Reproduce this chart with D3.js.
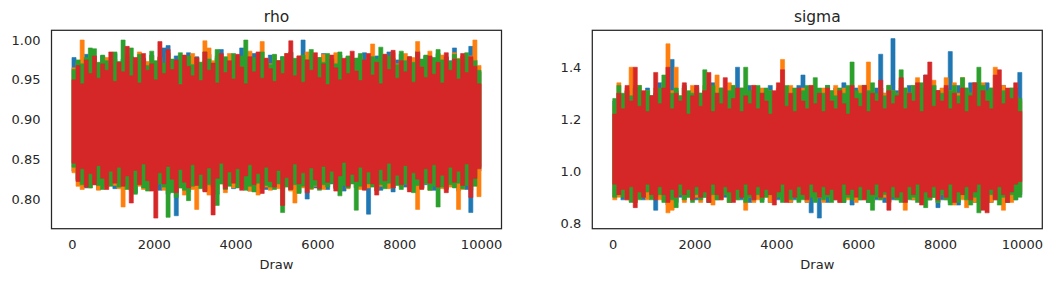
<!DOCTYPE html>
<html>
<head>
<meta charset="utf-8">
<script src="https://cdn.jsdelivr.net/npm/d3@7"></script>
<style>
  body { margin: 0; background: #fff; }
  text { font-family: "DejaVu Sans", sans-serif; fill: #262626; }
</style>
</head>
<body>
<script>
// draws per chain, split in 100 bins; each bin keeps the highest and lowest value
var nDraws = 10000;
var chainNames = ["0", "1", "2", "3"];
var chainColors = ["#1f77b4", "#ff7f0e", "#2ca02c", "#d62728"];

// rho
var rhoTicks = [0.80, 0.85, 0.90, 0.95, 1.00];
var rhoBlueHi = [.978,.970,.975,.982,.968,.974,.966,.980,.972,.969,.983,.971,.976,.967,.979,.973,.965,.977,.970,.981,.968,.975,.990,.993,.972,.980,.969,.976,.984,.971,.979,.966,.974,.982,.970,.977,.988,.968,.975,.973,.971,.990,.978,.967,.983,.972,.976,.969,.981,.974,.967,.979,.973,.985,.970,.977,1.0,.972,.980,.968,.975,.983,.970,.976,.968,.981,.973,.979,.971,.977,.969,.984,.976,.972,.980,.970,.978,.985,.968,.975,.982,.971,.977,.969,.986,.974,.980,.972,.976,.983,.970,.978,.974,.990,.972,.979,.968,.992,.975,.960];
var rhoBlueLo = [.835,.823,.820,.814,.826,.818,.812,.824,.816,.821,.813,.825,.818,.822,.815,.808,.827,.819,.814,.823,.816,.811,.821,.806,.818,.779,.822,.815,.809,.820,.814,.823,.817,.812,.819,.806,.825,.816,.821,.813,.818,.822,.814,.810,.826,.817,.815,.812,.820,.816,.821,.813,.818,.811,.822,.808,.816,.800,.823,.814,.817,.820,.812,.819,.815,.823,.810,.818,.821,.814,.820,.813,.781,.816,.822,.811,.818,.814,.809,.819,.823,.815,.817,.812,.820,.814,.818,.822,.811,.816,.819,.813,.821,.815,.810,.818,.812,.783,.817,.835];
var rhoOrangeHi = [.965,.972,1.0,.975,.968,.980,.971,.966,.978,.970,.976,.968,.974,.982,.970,.977,.985,.969,.973,.980,.971,.978,.967,.984,.973,.969,.981,.975,.970,.983,.977,.972,.999,.990,.974,.980,.968,.976,.983,.971,.979,.973,.969,.986,.975,.972,.998,.977,.970,.981,.974,.968,.983,.976,.972,.980,.969,.985,.975,.971,.978,.982,.970,.976,.984,.973,.969,.979,.975,.972,.980,.971,.977,.995,.973,.969,.982,.976,.984,.970,.975,.983,.972,.978,.998,.974,.970,.986,.977,.973,.981,.975,.971,.984,.977,.979,.973,.980,1.0,.968];
var rhoOrangeLo = [.833,.816,.812,.820,.814,.822,.811,.818,.815,.823,.817,.813,.790,.819,.810,.821,.816,.812,.820,.815,.818,.822,.811,.816,.809,.820,.814,.805,.817,.812,.787,.815,.820,.805,.816,.812,.819,.808,.821,.814,.816,.820,.813,.810,.818,.805,.821,.815,.811,.817,.813,.819,.816,.810,.795,.818,.814,.820,.812,.816,.819,.812,.817,.821,.814,.810,.818,.813,.820,.815,.812,.818,.814,.820,.811,.816,.819,.813,.817,.821,.815,.819,.812,.817,.787,.814,.820,.811,.818,.816,.813,.820,.815,.818,.787,.812,.819,.816,.821,.803];
var rhoGreenHi = [.963,.975,.970,.978,.990,.989,.972,.981,.974,.969,.985,.973,1.0,.977,.990,.970,.982,.975,.968,.986,.974,.979,.971,.983,.976,.970,.984,.973,.980,.969,.978,.972,.985,.976,.970,.988,.974,.979,.971,.983,.975,.980,1.0,.973,.978,.971,.985,.976,.969,.982,.974,.979,.972,.984,.977,.970,.981,.975,.988,.973,.978,.972,.983,.976,.970,.985,.974,.980,.972,.977,.983,.975,.971,.979,.976,.991,.973,.980,.977,.969,.986,.974,.979,.972,.984,.976,.981,.970,.978,.988,.975,.979,.973,.982,.976,.971,.984,.977,.974,.962];
var rhoGreenLo = [.840,.825,.818,.821,.814,.823,.817,.812,.820,.816,.822,.815,.819,.812,.818,.806,.821,.814,.810,.817,.813,.819,.815,.777,.808,.802,.814,.811,.798,.816,.820,.813,.810,.818,.815,.792,.819,.812,.816,.821,.814,.818,.811,.816,.809,.820,.813,.817,.815,.812,.819,.783,.815,.812,.818,.807,.816,.820,.813,.817,.811,.818,.815,.820,.813,.804,.817,.814,.819,.786,.816,.812,.819,.815,.810,.818,.813,.820,.814,.817,.812,.819,.815,.808,.817,.813,.820,.811,.816,.790,.815,.812,.818,.814,.820,.813,.817,.811,.816,.840];
var rhoRedHi = [.950,.968,.945,.975,.958,.980,.952,.970,.962,.985,.948,.972,.960,.992,.955,.978,.946,.983,.962,.970,.950,.998,.958,.988,.963,.975,.944,.981,.967,.955,.978,.949,.985,.962,.971,.946,.983,.959,.974,.951,.982,.966,.945,.979,.960,.985,.952,.977,.964,.948,.974,.958,.983,.999,.955,.980,.947,.975,.962,.984,.953,.970,.944,.981,.965,.950,.977,.958,.986,.961,.949,.975,.983,.956,.972,.945,.982,.963,.987,.952,.974,.960,.979,.947,.985,.966,.953,.980,.957,.972,.946,.984,.962,.976,.951,.983,.959,.979,.967,.945];
var rhoRedLo = [.845,.822,.838,.815,.832,.818,.842,.826,.812,.835,.820,.840,.816,.829,.795,.836,.818,.844,.823,.810,.776,.833,.819,.841,.825,.808,.837,.821,.814,.843,.817,.831,.809,.839,.780,.826,.845,.813,.834,.820,.838,.811,.829,.843,.818,.832,.807,.840,.822,.815,.836,.792,.827,.812,.844,.819,.833,.808,.839,.824,.813,.841,.821,.835,.810,.829,.846,.816,.831,.822,.840,.811,.834,.819,.805,.837,.823,.845,.814,.830,.818,.842,.809,.833,.825,.812,.838,.820,.843,.815,.830,.808,.840,.821,.835,.817,.844,.802,.826,.838];

// sigma
var sigmaTicks = [0.8, 1.0, 1.2, 1.4];
var sigmaBlueHi = [1.27,1.30,1.29,1.31,1.28,1.33,1.30,1.27,1.32,1.29,1.30,1.34,1.29,1.33,1.43,1.31,1.28,1.32,1.30,1.29,1.33,1.30,1.31,1.29,1.34,1.30,1.32,1.28,1.31,1.30,1.40,1.31,1.29,1.33,1.30,1.32,1.29,1.31,1.33,1.30,1.31,1.33,1.30,1.32,1.29,1.33,1.37,1.30,1.32,1.29,1.31,1.30,1.33,1.29,1.32,1.30,1.34,1.31,1.29,1.32,1.30,1.33,1.31,1.29,1.32,1.45,1.30,1.33,1.51,1.31,1.32,1.30,1.33,1.29,1.31,1.32,1.37,1.30,1.33,1.31,1.29,1.32,1.46,1.30,1.33,1.31,1.29,1.34,1.30,1.32,1.31,1.34,1.30,1.32,1.29,1.33,1.31,1.30,1.32,1.38];
var sigmaBlueLo = [0.90,0.91,0.89,0.92,0.90,0.88,0.91,0.89,0.90,0.91,0.85,0.90,0.89,0.87,0.91,0.88,0.90,0.89,0.91,0.90,0.89,0.91,0.90,0.88,0.90,0.89,0.91,0.90,0.88,0.90,0.91,0.89,0.90,0.88,0.91,0.90,0.89,0.91,0.88,0.90,0.89,0.91,0.90,0.88,0.89,0.91,0.90,0.88,0.84,0.89,0.82,0.90,0.88,0.91,0.89,0.90,0.88,0.91,0.87,0.90,0.89,0.91,0.88,0.90,0.89,0.91,0.88,0.90,0.89,0.91,0.90,0.88,0.91,0.89,0.90,0.88,0.91,0.89,0.90,0.86,0.89,0.91,0.88,0.90,0.87,0.91,0.89,0.90,0.88,0.91,0.89,0.90,0.88,0.91,0.89,0.90,0.88,0.91,0.89,0.91];
var sigmaOrangeHi = [1.25,1.34,1.28,1.32,1.40,1.30,1.33,1.29,1.31,1.28,1.32,1.30,1.34,1.49,1.31,1.40,1.29,1.32,1.30,1.33,1.31,1.29,1.33,1.30,1.32,1.37,1.29,1.31,1.34,1.33,1.30,1.32,1.31,1.29,1.33,1.30,1.32,1.28,1.31,1.30,1.32,1.43,1.30,1.33,1.31,1.29,1.32,1.30,1.33,1.31,1.29,1.32,1.30,1.31,1.33,1.29,1.32,1.30,1.31,1.29,1.33,1.30,1.42,1.31,1.29,1.32,1.30,1.33,1.31,1.30,1.35,1.32,1.30,1.33,1.36,1.31,1.29,1.33,1.35,1.30,1.32,1.36,1.31,1.34,1.30,1.36,1.32,1.30,1.33,1.31,1.34,1.30,1.32,1.40,1.31,1.33,1.30,1.32,1.29,1.27];
var sigmaOrangeLo = [0.89,0.90,0.91,0.89,0.90,0.88,0.90,0.91,0.89,0.90,0.91,0.89,0.90,0.84,0.85,0.89,0.91,0.88,0.90,0.89,0.90,0.88,0.91,0.89,0.87,0.90,0.89,0.91,0.88,0.90,0.89,0.91,0.85,0.90,0.88,0.89,0.91,0.90,0.88,0.90,0.91,0.89,0.90,0.88,0.91,0.89,0.90,0.88,0.91,0.89,0.90,0.88,0.91,0.89,0.90,0.88,0.91,0.89,0.90,0.88,0.91,0.89,0.90,0.88,0.91,0.89,0.90,0.88,0.91,0.89,0.90,0.85,0.91,0.89,0.90,0.88,0.91,0.89,0.90,0.88,0.91,0.89,0.90,0.87,0.91,0.89,0.86,0.90,0.88,0.91,0.89,0.90,0.88,0.91,0.89,0.85,0.90,0.88,0.91,0.92];
var sigmaGreenHi = [1.28,1.33,1.30,1.31,1.29,1.32,1.33,1.30,1.31,1.29,1.30,1.32,1.37,1.34,1.30,1.32,1.29,1.33,1.31,1.30,1.32,1.30,1.39,1.31,1.33,1.30,1.32,1.29,1.31,1.33,1.30,1.32,1.40,1.31,1.29,1.33,1.30,1.32,1.31,1.29,1.31,1.30,1.33,1.29,1.32,1.30,1.31,1.33,1.29,1.36,1.32,1.30,1.33,1.31,1.29,1.32,1.30,1.33,1.42,1.31,1.30,1.33,1.31,1.34,1.30,1.32,1.29,1.33,1.31,1.30,1.39,1.32,1.30,1.33,1.31,1.34,1.30,1.32,1.33,1.31,1.30,1.32,1.31,1.33,1.29,1.36,1.32,1.30,1.34,1.40,1.33,1.31,1.32,1.30,1.33,1.31,1.30,1.32,1.29,1.28];
var sigmaGreenLo = [0.90,0.91,0.90,0.92,0.88,0.91,0.89,0.90,0.92,0.89,0.90,0.91,0.88,0.90,0.89,0.86,0.91,0.89,0.90,0.88,0.91,0.89,0.90,0.88,0.91,0.89,0.90,0.91,0.88,0.90,0.89,0.91,0.88,0.90,0.89,0.91,0.88,0.90,0.91,0.89,0.90,0.88,0.91,0.89,0.90,0.88,0.89,0.91,0.90,0.88,0.91,0.89,0.90,0.88,0.91,0.89,0.88,0.90,0.89,0.91,0.89,0.90,0.88,0.85,0.90,0.89,0.91,0.88,0.90,0.89,0.88,0.91,0.89,0.90,0.88,0.91,0.86,0.89,0.90,0.88,0.91,0.89,0.87,0.90,0.88,0.91,0.89,0.87,0.90,0.84,0.90,0.88,0.91,0.89,0.87,0.90,0.88,0.91,0.89,0.90];
var sigmaRedHi = [1.22,1.30,1.24,1.33,1.27,1.40,1.25,1.31,1.23,1.29,1.38,1.26,1.32,1.40,1.24,1.30,1.27,1.34,1.22,1.29,1.33,1.25,1.31,1.38,1.23,1.30,1.26,1.36,1.24,1.28,1.32,1.23,1.29,1.26,1.33,1.24,1.30,1.27,1.22,1.31,1.34,1.39,1.25,1.30,1.23,1.32,1.27,1.24,1.33,1.26,1.30,1.23,1.32,1.27,1.24,1.31,1.26,1.22,1.33,1.28,1.25,1.33,1.23,1.30,1.27,1.35,1.24,1.31,1.26,1.29,1.36,1.24,1.30,1.27,1.34,1.23,1.37,1.42,1.25,1.31,1.27,1.33,1.24,1.30,1.26,1.32,1.23,1.29,1.34,1.25,1.31,1.27,1.24,1.37,1.39,1.26,1.32,1.28,1.34,1.23];
var sigmaRedLo = [0.95,0.91,0.93,0.89,0.94,0.86,0.92,0.90,0.95,0.91,0.89,0.94,0.91,0.88,0.93,0.90,0.95,0.91,0.93,0.89,0.94,0.90,0.92,0.88,0.95,0.91,0.89,0.94,0.92,0.88,0.93,0.90,0.95,0.91,0.89,0.94,0.90,0.93,0.91,0.87,0.92,0.95,0.88,0.93,0.90,0.94,0.91,0.89,0.95,0.92,0.90,0.94,0.91,0.93,0.89,0.88,0.95,0.91,0.93,0.90,0.94,0.89,0.93,0.91,0.95,0.90,0.92,0.85,0.94,0.90,0.92,0.88,0.94,0.91,0.95,0.87,0.92,0.90,0.94,0.89,0.93,0.90,0.95,0.88,0.92,0.91,0.94,0.89,0.92,0.95,0.85,0.84,0.93,0.89,0.94,0.91,0.88,0.92,0.95,0.96];

var xTicks = [0, 2000, 4000, 6000, 8000, 10000];

var W = 1054, H = 281;
var plotTop = 30.3, plotBottom = 228.7;

var svg = d3.select("body").append("svg")
    .attr("width", W)
    .attr("height", H);

var panels = [
  { title: "rho", left: 51.5, right: 501.5, domain: [0.7627, 1.0122], ticks: rhoTicks, fmt: d3.format(".2f"),
    hi: [rhoBlueHi, rhoOrangeHi, rhoGreenHi, rhoRedHi], lo: [rhoBlueLo, rhoOrangeLo, rhoGreenLo, rhoRedLo] },
  { title: "sigma", left: 592.3, right: 1042.3, domain: [0.779, 1.542], ticks: sigmaTicks, fmt: d3.format(".1f"),
    hi: [sigmaBlueHi, sigmaOrangeHi, sigmaGreenHi, sigmaRedHi], lo: [sigmaBlueLo, sigmaOrangeLo, sigmaGreenLo, sigmaRedLo] }
];

panels.forEach(function(p) {
  var x = d3.scaleLinear().domain([-500, 10500]).range([p.left, p.right]);
  var y = d3.scaleLinear().domain(p.domain).range([plotBottom, plotTop]);
  var g = svg.append("g");

  // one band per chain (bin high to bin low), red ends on top
  chainNames.forEach(function(c, k) {
    var hi = p.hi[k], lo = p.lo[k];
    var n = hi.length, step = nDraws / n;
    var pts = hi.map(function(v, i) { return { d: i * step, hi: v, lo: lo[i] }; });
    pts.push({ d: nDraws, hi: hi[n - 1], lo: lo[n - 1] });
    var area = d3.area()
      .curve(d3.curveStepAfter)
      .x(function(d) { return x(d.d); })
      .y0(function(d) { return y(d.lo); })
      .y1(function(d) { return y(d.hi); });
    g.append("path")
      .datum(pts)
      .attr("d", area)
      .attr("fill", chainColors[k])
      .attr("stroke", chainColors[k])
      .attr("stroke-width", 0.6);
  });

  // frame
  g.append("rect")
    .attr("x", p.left).attr("y", plotTop)
    .attr("width", p.right - p.left).attr("height", plotBottom - plotTop)
    .attr("fill", "none").attr("stroke", "#262626").attr("stroke-width", 1.25);

  var ax = g.append("g")
    .attr("transform", "translate(0," + plotBottom + ")")
    .call(d3.axisBottom(x).tickValues(xTicks).tickSize(0).tickPadding(11).tickFormat(d3.format("d")));
  var ay = g.append("g")
    .attr("transform", "translate(" + p.left + ",0)")
    .call(d3.axisLeft(y).tickValues(p.ticks).tickSize(0).tickPadding(11).tickFormat(p.fmt));
  [ax, ay].forEach(function(a) {
    a.select(".domain").remove();
    a.selectAll("text").attr("font-size", "13px").attr("font-family", "DejaVu Sans").attr("fill", "#262626");
  });

  var cx = (p.left + p.right) / 2;
  g.append("text")
    .attr("x", cx).attr("y", 22)
    .attr("text-anchor", "middle")
    .attr("font-size", "15.5px")
    .text(p.title);
  g.append("text")
    .attr("x", cx).attr("y", 269)
    .attr("text-anchor", "middle")
    .attr("font-size", "13px")
    .text("Draw");
});
</script>
</body>
</html>
